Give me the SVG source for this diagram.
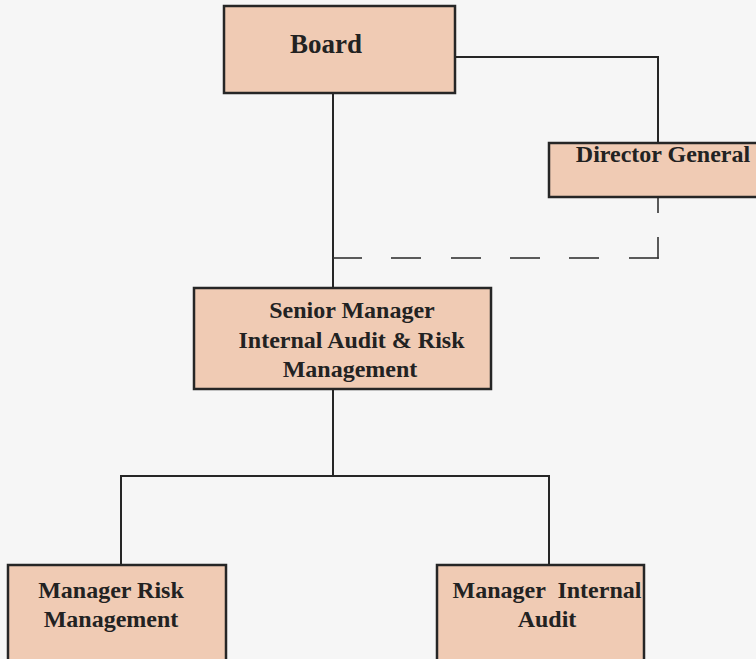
<svg xmlns="http://www.w3.org/2000/svg" width="756" height="659" viewBox="0 0 756 659">
  <style>
    .box { fill: #f0cbb4; stroke: #262626; stroke-width: 2.5; }
    .lbl { font-family: "Liberation Serif", "DejaVu Serif", serif; font-weight: bold; font-size: 24px; fill: #222222; text-anchor: middle; }
    .big { font-size: 27px; }
    .wire { fill: none; stroke: #262626; stroke-width: 2; }
    .dash { fill: none; stroke: #333333; stroke-width: 1.6; }
  </style>
  <rect width="756" height="659" fill="#f6f6f6"/>

  <g id="connectors">
    <!-- Board to Director General -->
    <path class="wire" d="M455 57 H658 V143"/>
    <!-- Board to Senior Manager -->
    <path class="wire" d="M333 93 V288"/>
    <!-- Senior Manager to the two managers -->
    <path class="wire" d="M333 389 V476 M121 476 H549 M121 475 V565 M549 475 V565"/>
    <!-- dashed link from Director General -->
    <g class="dash">
      <line x1="658" y1="197" x2="658" y2="213"/>
      <line x1="658" y1="237" x2="658" y2="258.8"/>
      <line x1="658.8" y1="258" x2="629" y2="258"/>
      <line x1="599" y1="258" x2="569" y2="258"/>
      <line x1="540" y1="258" x2="510" y2="258"/>
      <line x1="481" y1="258" x2="451" y2="258"/>
      <line x1="421" y1="258" x2="391" y2="258"/>
      <line x1="362" y1="258" x2="333" y2="258"/>
    </g>
  </g>

  <g id="board">
    <rect class="box" x="224" y="6" width="231" height="87"/>
    <text class="lbl big" x="326" y="53">Board</text>
  </g>

  <g id="director-general">
    <rect class="box" x="549" y="143" width="220" height="54"/>
    <text class="lbl" x="663" y="162">Director General</text>
  </g>

  <g id="senior-manager">
    <rect class="box" x="194" y="288" width="297" height="101"/>
    <text class="lbl" x="352" y="318">Senior Manager</text>
    <text class="lbl" x="351.5" y="348">Internal Audit &amp; Risk</text>
    <text class="lbl" x="350" y="377">Management</text>
  </g>

  <g id="manager-risk">
    <rect class="box" x="8" y="565" width="218" height="110"/>
    <text class="lbl" x="111" y="598">Manager Risk</text>
    <text class="lbl" x="111" y="627">Management</text>
  </g>

  <g id="manager-audit">
    <rect class="box" x="437" y="565" width="207" height="110"/>
    <text class="lbl" x="547" y="598" xml:space="preserve">Manager  Internal</text>
    <text class="lbl" x="547" y="627">Audit</text>
  </g>
</svg>
